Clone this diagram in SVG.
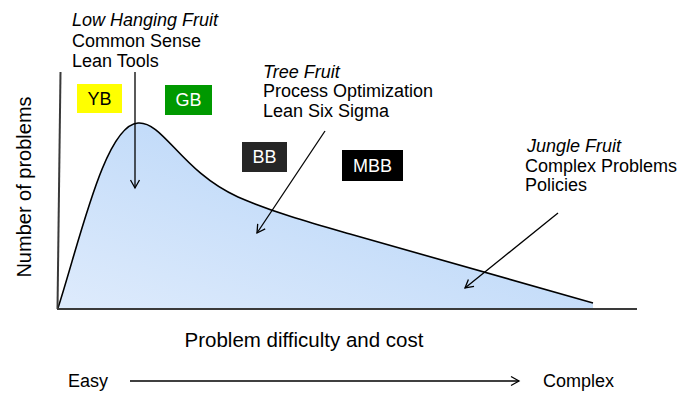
<svg xmlns="http://www.w3.org/2000/svg" width="683" height="393" viewBox="0 0 683 393">
  <style>
    text { font-family: "Liberation Sans", Arial, sans-serif; font-size: 18px; fill: #000; }
    .it { font-style: italic; }
    .axis { stroke: #3a3a3a; stroke-width: 2; fill: none; }
    .curve { stroke: #000; stroke-width: 1.6; fill: none; }
    .conn { stroke: #000; stroke-width: 1.3; fill: none; marker-end: url(#chev); }
    .badge text { text-anchor: middle; font-size: 18px; }
    .light { fill: #fff; }
  </style>
  <defs>
    <linearGradient id="bell" x1="0" y1="1" x2="1" y2="0">
      <stop offset="0" stop-color="#deebfc"/>
      <stop offset="0.6" stop-color="#c2dbf9"/>
      <stop offset="1" stop-color="#b6d3f8"/>
    </linearGradient>
    <marker id="chev" markerUnits="userSpaceOnUse" markerWidth="14" markerHeight="14" refX="10" refY="7" orient="auto" overflow="visible">
      <path d="M2,2.5 L10,7 L2,11.5" fill="none" stroke="#000" stroke-width="1.3"/>
    </marker>
  </defs>

  <!-- distribution curve -->
  <g id="curve">
    <path d="M58,308 C80,240 105,125 138,123 C163,121 182,172 238,197 C275,213 315,224 350,234 L593,303 L593,309 L58,309 Z" fill="url(#bell)"/>
    <path class="curve" d="M58,308 C80,240 105,125 138,123 C163,121 182,172 238,197 C275,213 315,224 350,234 L593,303"/>
  </g>

  <!-- axes -->
  <g id="axes">
    <line class="axis" x1="60.5" y1="72" x2="57.5" y2="309"/>
    <line class="axis" x1="57" y1="309" x2="637" y2="309"/>
    <text transform="translate(31,187) rotate(-90)" text-anchor="middle" style="font-size:20px">Number of problems</text>
    <text x="304" y="347" text-anchor="middle" style="font-size:20.5px">Problem difficulty and cost</text>
  </g>

  <!-- belt badges -->
  <g id="yb" class="badge">
    <rect x="77" y="84" width="45" height="29" fill="#ffff00"/>
    <text x="99.5" y="105">YB</text>
  </g>
  <g id="gb" class="badge">
    <rect x="165" y="85" width="47" height="30" fill="#009900"/>
    <text class="light" x="188.5" y="106">GB</text>
  </g>
  <g id="bb" class="badge">
    <rect x="242" y="142" width="45" height="30" fill="#262626"/>
    <text class="light" x="264.5" y="163">BB</text>
  </g>
  <g id="mbb" class="badge">
    <rect x="342" y="150" width="61" height="31" fill="#000"/>
    <text class="light" x="372.5" y="172">MBB</text>
  </g>

  <!-- fruit labels -->
  <g id="low-hanging">
    <text class="it" x="72" y="26">Low Hanging Fruit</text>
    <text x="72" y="47">Common Sense</text>
    <text x="72" y="67">Lean Tools</text>
  </g>
  <g id="tree">
    <text class="it" x="263" y="78">Tree Fruit</text>
    <text x="263" y="97">Process Optimization</text>
    <text x="263" y="117">Lean Six Sigma</text>
  </g>
  <g id="jungle">
    <text class="it" x="527" y="152">Jungle Fruit</text>
    <text x="525" y="172">Complex Problems</text>
    <text x="525" y="191">Policies</text>
  </g>

  <!-- scale -->
  <g id="scale">
    <text x="68" y="387">Easy</text>
    <text x="543" y="387">Complex</text>
  </g>

  <!-- connectors -->
  <g id="connectors">
    <line class="conn" x1="135" y1="72" x2="135" y2="188"/>
    <line class="conn" x1="325" y1="131" x2="257" y2="233"/>
    <line class="conn" x1="558" y1="213" x2="465" y2="288"/>
    <line class="conn" x1="130" y1="381" x2="519" y2="381"/>
  </g>
</svg>
